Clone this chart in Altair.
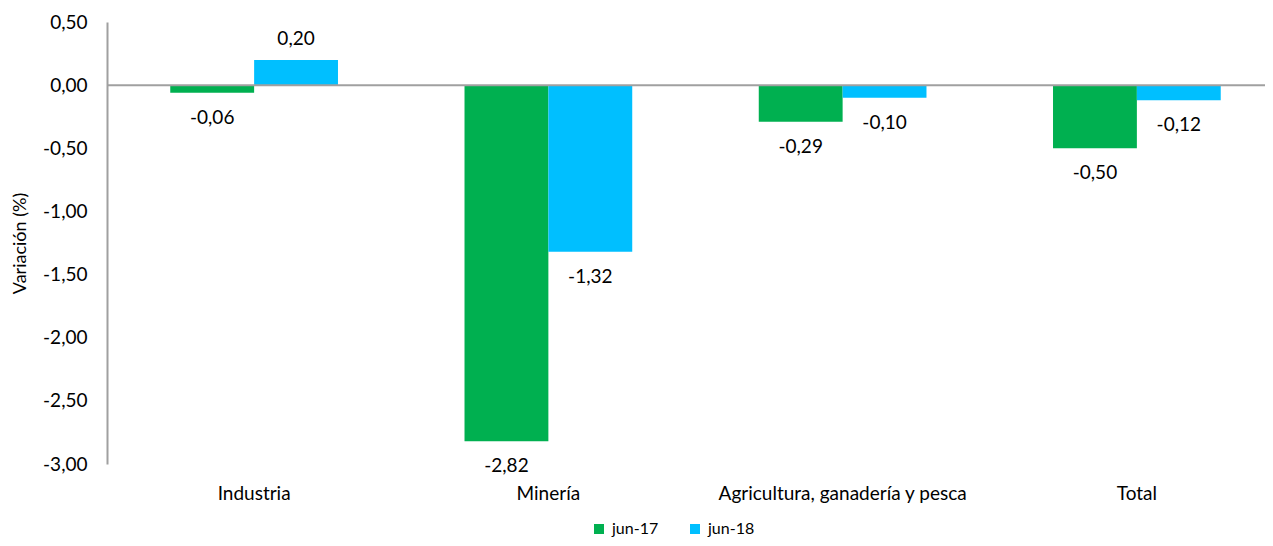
import altair as alt
import pandas as pd

categories = ["Industria", "Minería", "Agricultura, ganadería y pesca", "Total"]
series = ["jun-17", "jun-18"]
jun17 = [-0.06, -2.82, -0.29, -0.50]
jun18 = [0.20, -1.32, -0.10, -0.12]
colors = ["#00B050", "#00BFFF"]
y_ticks = [0.5, 0.0, -0.5, -1.0, -1.5, -2.0, -2.5, -3.0]

rows = []
for c, a, b in zip(categories, jun17, jun18):
    rows.append({"cat": c, "serie": series[0], "v": a})
    rows.append({"cat": c, "serie": series[1], "v": b})
df = pd.DataFrame(rows)

FONT = "Lato"
W, H = 1158, 442
FMT = "(datum.value < 0 ? '-' : '') + replace(format(abs(datum.value), '.2f'), '.', ',')"
FMT_V = "(datum.v < 0 ? '-' : '') + replace(format(abs(datum.v), '.2f'), '.', ',')"

x = alt.X("cat:N", sort=categories, title=None,
          scale=alt.Scale(range=[0, 1177], paddingInner=0.43, paddingOuter=0.215),
          axis=alt.Axis(domain=False, ticks=False, labelAngle=0, labelPadding=20, labelLimit=0,
                        labelFontSize=19, labelFont=FONT, labelColor="#000"))
xoff = alt.XOffset("serie:N", sort=series, scale=alt.Scale(paddingInner=0, paddingOuter=0))
y = alt.Y("v:Q", scale=alt.Scale(domain=[-3, 0.5], nice=False, zero=False),
          title="Variación (%)",
          axis=alt.Axis(values=y_ticks, labelExpr=FMT,
                        ticks=False, grid=False, domainColor="#A0A0A0", domainWidth=2,
                        labelFont=FONT, labelFontSize=19, labelColor="#000", labelPadding=20,
                        titleFont=FONT, titleFontSize=18, titleFontWeight="normal", titleColor="#000",
                        titleX=-87, titleY=221, titleAngle=270, titleAlign="center", titleBaseline="middle"))
color = alt.Color("serie:N", scale=alt.Scale(domain=series, range=colors),
                  legend=alt.Legend(title=None, orient="none", legendX=484, legendY=499,
                                    direction="horizontal", symbolType="square", symbolSize=100,
                                    symbolStrokeWidth=0, labelFont=FONT, labelFontSize=16,
                                    labelColor="#000", labelOffset=5, columnPadding=28))

base = alt.Chart(df).transform_calculate(lab=FMT_V)
bars = base.mark_bar().encode(x=x, xOffset=xoff, y=y, color=color)
pos = base.transform_filter("datum.v >= 0").mark_text(
    dy=-21, font=FONT, fontSize=19, color="#000", baseline="middle"
).encode(x=x, xOffset=xoff, y=y, text="lab:N")
neg = base.transform_filter("datum.v < 0").mark_text(
    dy=25, font=FONT, fontSize=19, color="#000", baseline="middle"
).encode(x=x, xOffset=xoff, y=y, text="lab:N")
zero = alt.Chart(pd.DataFrame({"v": [0.0]})).mark_rule(color="#A0A0A0", strokeWidth=2).encode(y=y)

chart = alt.layer(bars, zero, pos, neg).properties(
    width=W, height=H,
    autosize=alt.AutoSizeParams(type="none"),
    padding={"left": 99, "top": 14, "right": 0, "bottom": 74},
).configure_view(stroke=None)

chart.save("out.html", embed_options={"renderer": "svg", "actions": False})
